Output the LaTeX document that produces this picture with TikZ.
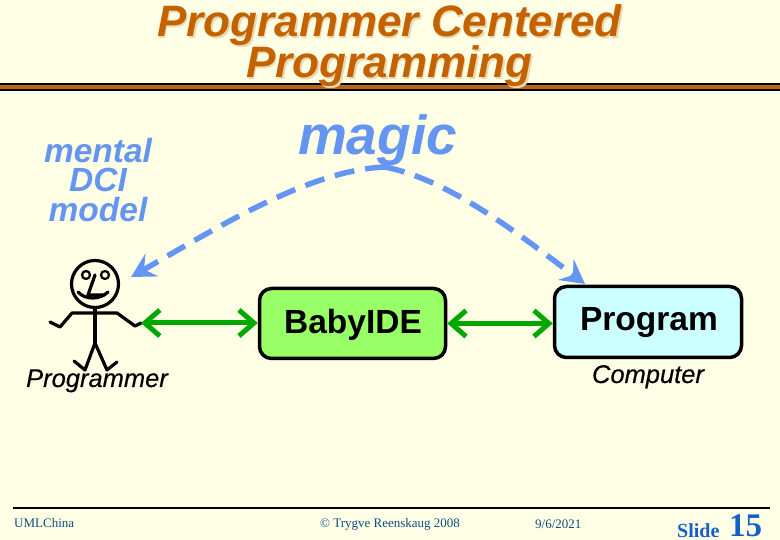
\documentclass[tikz,border=0pt]{standalone}
\usepackage{fontspec}
\setmainfont{Liberation Sans}
\newfontfamily\serifface{Liberation Serif}
\newfontfamily\capface[FakeBold=0.35]{Liberation Sans}
\usetikzlibrary{arrows.meta}
\definecolor{bgc}{HTML}{FFFFE6}
\definecolor{titlec}{HTML}{C46200}
\definecolor{shadowc}{HTML}{E8DAB0}
\definecolor{rulec}{HTML}{B8651B}
\definecolor{bluec}{HTML}{6495F2}
\definecolor{greenc}{HTML}{00A800}
\definecolor{limec}{HTML}{99FF66}
\definecolor{cyanc}{HTML}{CCFFFF}
\definecolor{footc}{HTML}{0F4C81}
\definecolor{slidec}{HTML}{1560C8}
\tikzset{
  x=1pt,y=-1pt,
  titletxt/.style={font=\fontsize{44}{44}\selectfont\bfseries\itshape,anchor=base,inner sep=0pt},
  bluetxt/.style={text=bluec,font=\fontsize{33.5}{33.5}\selectfont\bfseries\itshape,anchor=base,inner sep=0pt},
  box/.style={draw=black,line width=3.5pt,rounded corners=12pt,inner sep=0pt},
  boxtxt/.style={font=\fontsize{33.5}{33.5}\selectfont\bfseries,anchor=base,inner sep=0pt},
  captxt/.style={font=\capface\fontsize{25.5}{25.5}\selectfont\itshape,anchor=base,inner sep=0pt},
  greenarrow/.style={draw=greenc,line width=5pt,{Straight Barb[length=15pt,width=26pt,line width=5pt]}-{Straight Barb[length=15pt,width=26pt,line width=5pt]}},
  bluedash/.style={draw=bluec,line width=5.5pt,dash pattern=on 20pt off 11pt,-{Stealth[length=24pt,width=26pt,inset=9pt]}},
  stick/.style={draw=black,line width=3.2pt,line cap=round,line join=round},
  foottxt/.style={text=footc,font=\serifface\fontsize{13}{13}\selectfont,anchor=base,inner sep=0pt},
}
\begin{document}
\begin{tikzpicture}
\useasboundingbox (0,0) rectangle (780,540);
\fill[bgc] (0,0) rectangle (780,540);
% title rule
\draw[black,fill=rulec,line width=2pt] (-3,84) rectangle (783,90);
% title
\node[titletxt,text=shadowc] at (391,38.5) {Programmer Centered};
\node[titletxt,text=shadowc] at (391,80) {Programming};
\node[titletxt,text=titlec] (t1) at (389.5,36.5) {Programmer Centered};
\node[titletxt,text=titlec] (t2) at (389.5,78) {Programming};
% labels
\node[bluetxt] (l1) at (98,163) {mental};
\node[bluetxt] (l2) at (98,192) {DCI};
\node[bluetxt] (l3) at (98,221.5) {model};
\node[bluetxt,font=\fontsize{55}{55}\selectfont\bfseries\itshape] (magic) at (377.5,155) {magic};
% dashed curve
\coordinate (apex) at (385,167);
\coordinate (tipL) at (131,277);
\coordinate (tipR) at (585,284);
\draw[bluedash] (apex) .. controls (310,170) and (220,226) .. (tipL);
\draw[bluedash] (apex) .. controls (450,180) and (520,235) .. (tipR);
% boxes
\node[box,fill=limec,minimum width=186pt,minimum height=70pt] (ide) at (352.5,323.5) {};
\node[box,fill=cyanc,minimum width=187pt,minimum height=71pt] (prog) at (648,322) {};
\node[boxtxt] (idet) at (353,334) {BabyIDE};
\node[boxtxt] (progt) at (649,331) {Program};
\node[captxt] (comp) at (648,383) {Computer};
\node[captxt] (prgr) at (97,387) {Programmer};
% stick figure
\node[stick,circle,minimum size=47pt,inner sep=0pt] (head) at (95,284) {};
\node[stick,circle,minimum size=8pt,inner sep=0pt,line width=2.2pt] (eyeL) at (86,275) {};
\node[stick,circle,minimum size=8pt,inner sep=0pt,line width=2.2pt] (eyeR) at (105,275) {};
\coordinate (hip) at (95,343);
\coordinate (handR) at (141,323);
\draw[stick] (95,275) -- (88,295) -- (104,295);
\draw[stick] (78,292) .. controls (85,300) and (100,300) .. (108,292);
\draw[stick] (head.south) -- (hip);
\draw[stick] (50,322) -- (60,327) -- (72,313) -- (117,313) -- (135,326) -- (handR);
\draw[stick] (74,361) -- (85,370) -- (hip) -- (107,370) -- (117,362);
% green arrows
\draw[greenarrow] (handR) -- (handR -| ide.west);
\draw[greenarrow] (ide.east) -- (ide.east -| prog.west);
% footer
\coordinate (fl) at (13,508);
\coordinate (fr) at (770,508);
\draw[black,line width=2.5pt] (fl) -- (fr);
\node[foottxt,anchor=base west] (f1) at (14,527) {UMLChina};
\node[foottxt,anchor=base west] (f2) at (320,527) {© Trygve Reenskaug 2008};
\node[foottxt,anchor=base west] (f3) at (535,528) {9/6/2021};
\node[anchor=base west,inner sep=0pt,text=slidec,font=\serifface\fontsize{20}{20}\selectfont\bfseries] (f4) at (677,537) {Slide};
\node[anchor=base west,inner sep=0pt,text=slidec,font=\serifface\fontsize{33}{33}\selectfont\bfseries] (f5) at (729,536) {15};
\end{tikzpicture}
\end{document}
